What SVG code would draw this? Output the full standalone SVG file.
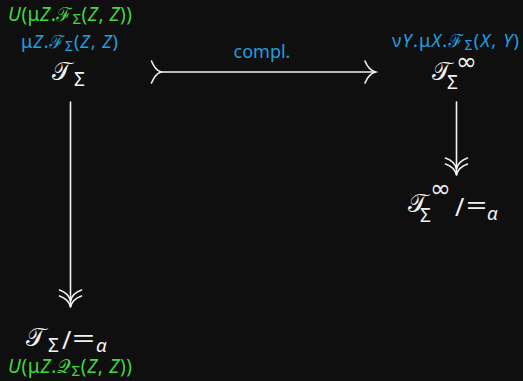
<svg xmlns="http://www.w3.org/2000/svg" width="523" height="381" viewBox="0 0 523 381">
<style>
.t{font-family:"Noto Sans","DejaVu Sans",sans-serif;}
.w{fill:#f2f2f2}
.g{fill:#3fd93f;font-size:19px}
.b{fill:#1ea0e0;font-size:18px}
.i{font-style:italic}
.T{font-size:25px}
.s{font-size:19px}
.inf{font-size:25px}
.ln{stroke:#f2f2f2;stroke-width:1.6;fill:none;stroke-linecap:round}
</style>
<rect width="523" height="381" fill="#0f0f0f"/>
<g id="TS">
<text class="t g" x="8" y="21" textLength="124" lengthAdjust="spacing"><tspan class="i">U</tspan>(μ<tspan class="i">Z</tspan>.ℱ<tspan font-size="15" dy="3">Σ</tspan><tspan dy="-3">(</tspan><tspan class="i">Z</tspan>, <tspan class="i">Z</tspan>))</text>
<text class="t b" x="21" y="48" textLength="97" lengthAdjust="spacing">μ<tspan class="i">Z</tspan>.ℱ<tspan font-size="14" dy="3">Σ</tspan><tspan dy="-3">(</tspan><tspan class="i">Z</tspan>, <tspan class="i">Z</tspan>)</text>
<text class="t w" y="80"><tspan class="T" x="52">𝒯</tspan><tspan class="s" x="74" y="86">Σ</tspan></text>
</g>
<g id="TSinf">
<text class="t b" x="392" y="47" textLength="127" lengthAdjust="spacing">ν<tspan class="i">Y</tspan>.μ<tspan class="i">X</tspan>.ℱ<tspan font-size="14" dy="3">Σ</tspan><tspan dy="-3">(</tspan><tspan class="i">X</tspan>, <tspan class="i">Y</tspan>)</text>
<text class="t w" y="80"><tspan class="T" x="432">𝒯</tspan><tspan class="s" x="447" y="89">Σ</tspan><tspan class="inf" x="456" y="70">∞</tspan></text>
</g>
<g id="TSinfq">
<text class="t w" y="212"><tspan class="T" x="408">𝒯</tspan><tspan class="s" x="420" y="222">Σ</tspan><tspan class="inf" x="430" y="197">∞</tspan><tspan font-size="25" x="455" y="216">/</tspan><tspan class="i" font-size="19" x="487" y="220">α</tspan></text>
<text class="t w" x="466" y="215" font-size="26" textLength="21" lengthAdjust="spacingAndGlyphs">=</text>
</g>
<g id="TSq">
<text class="t w" y="346"><tspan class="T" x="26">𝒯</tspan><tspan class="s" x="48" y="352">Σ</tspan><tspan font-size="25" x="62" y="349">/</tspan><tspan class="i" font-size="19" x="96" y="352">α</tspan></text>
<text class="t w" x="72" y="348" font-size="26" textLength="23" lengthAdjust="spacingAndGlyphs">=</text>
<text class="t g" x="8" y="373" textLength="124" lengthAdjust="spacing"><tspan class="i">U</tspan>(μ<tspan class="i">Z</tspan>.𝒬<tspan font-size="15" dy="3">Σ</tspan><tspan dy="-3">(</tspan><tspan class="i">Z</tspan>, <tspan class="i">Z</tspan>))</text>
</g>
<g id="connectors">
<path class="ln" d="M161 72 H375"/>
<path class="ln" d="M151.5 61 Q155 70 161 72 Q155 74 151.5 83"/>
<path class="ln" d="M365 61 Q368.5 70 375.5 72 Q368.5 74 365 83"/>
<text class="t b" x="262" y="58" text-anchor="middle" font-size="22">compl.</text>
<path class="ln" d="M70.5 102 V307"/>
<path class="ln" d="M59.5 296 Q68.5 299 70.5 307 Q72.5 299 81.5 296"/>
<path class="ln" d="M59.5 290 Q68.5 293 70.5 301 Q72.5 293 81.5 290"/>
<path class="ln" d="M456.5 102 V175"/>
<path class="ln" d="M445.5 164 Q454.5 167 456.5 175 Q458.5 167 467.5 164"/>
<path class="ln" d="M445.5 158 Q454.5 161 456.5 169 Q458.5 161 467.5 158"/>
</g>
</svg>
